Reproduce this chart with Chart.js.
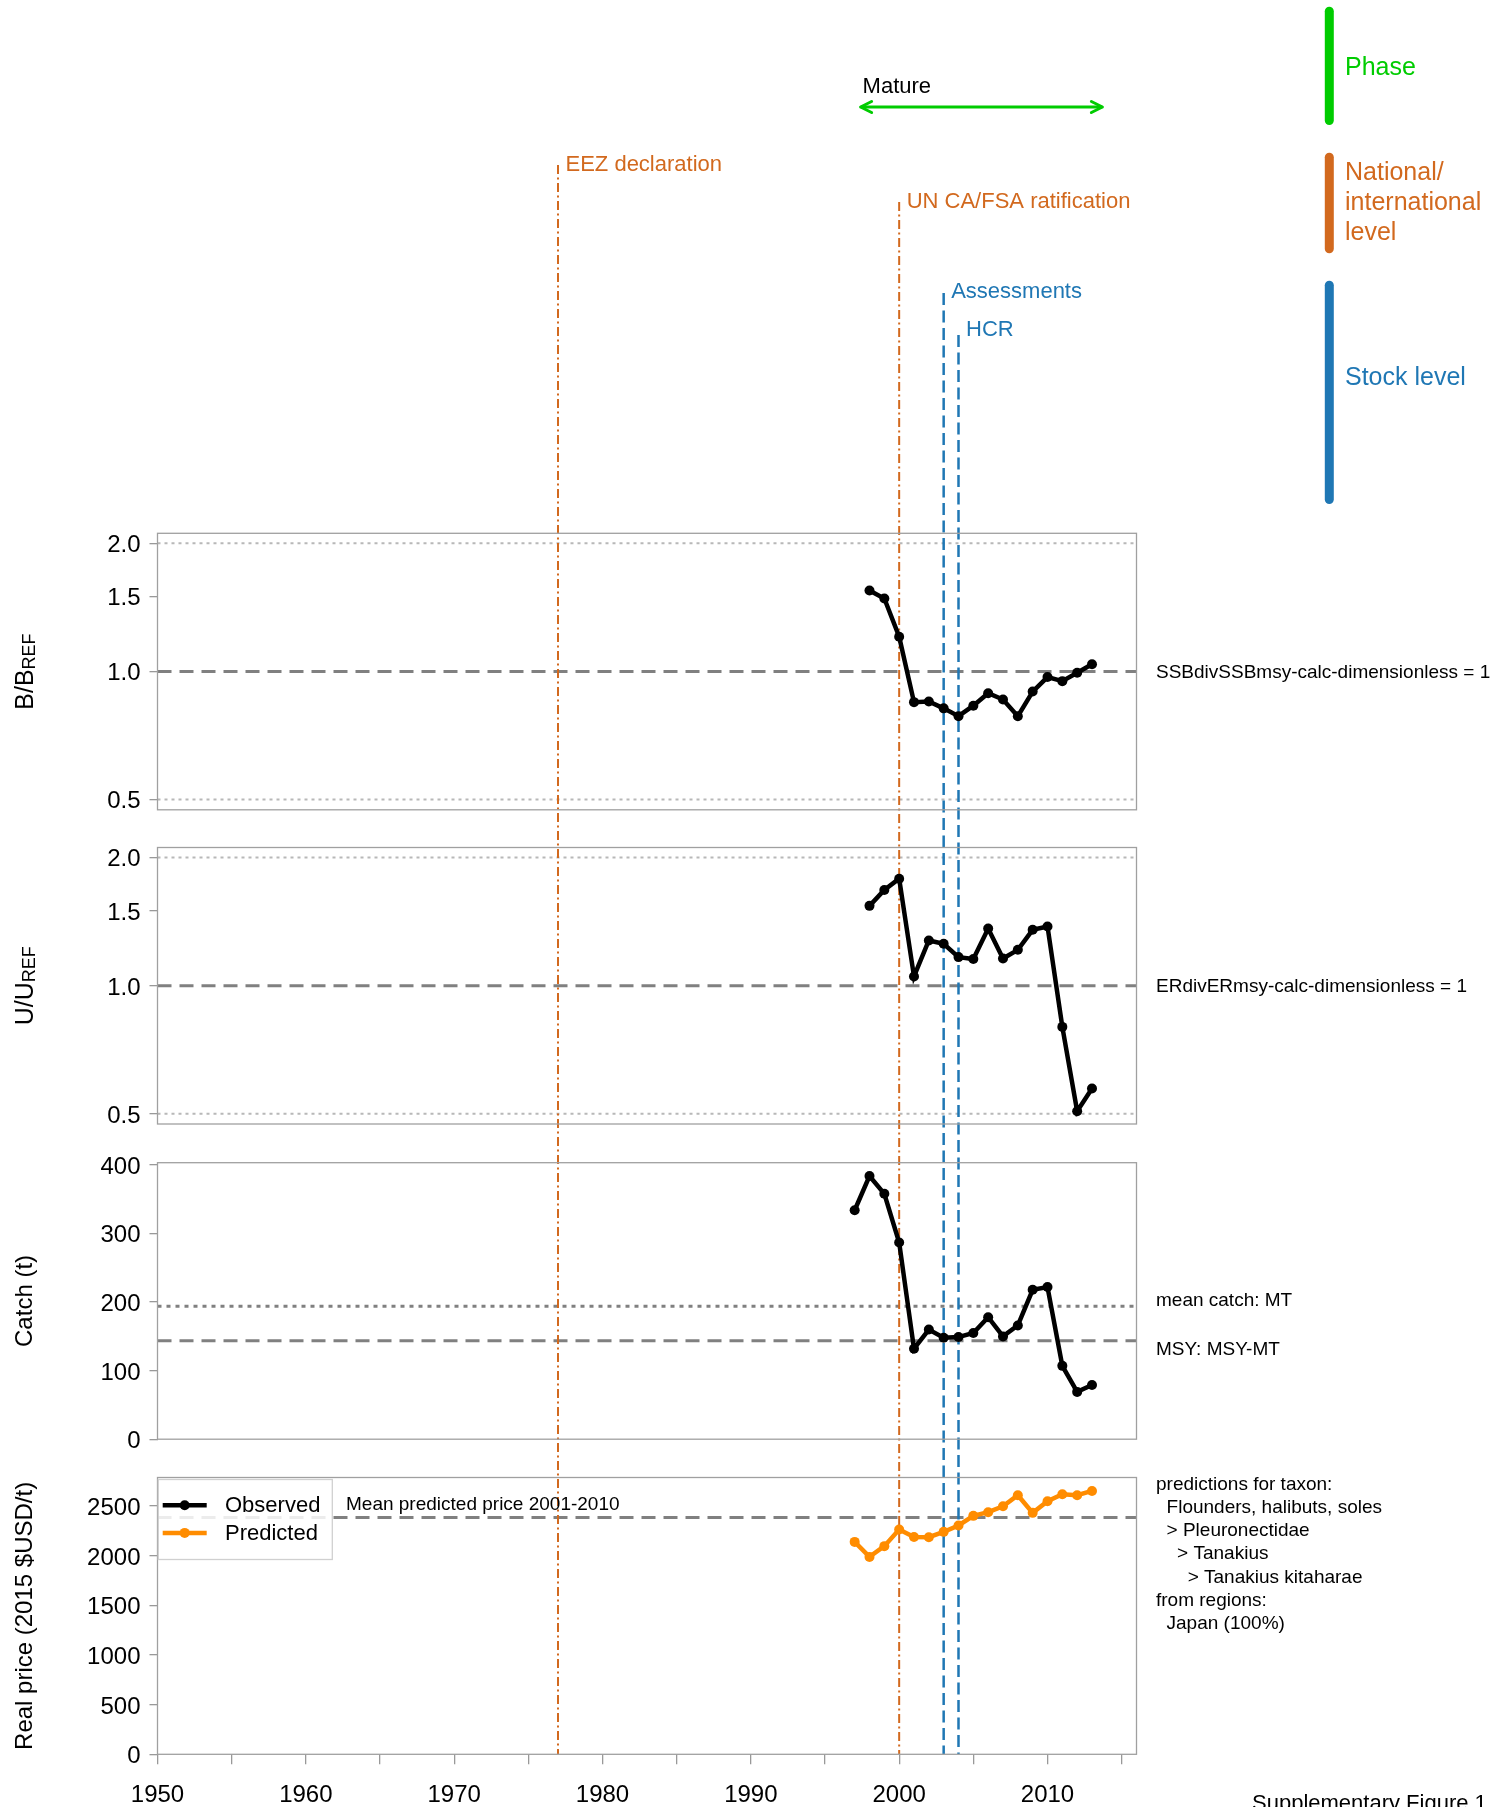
<!DOCTYPE html>
<html><head><meta charset="utf-8">
<script src="https://cdn.jsdelivr.net/npm/chart.js@4.4.1/dist/chart.umd.min.js"></script>
<style>
html,body{margin:0;padding:0;background:#fff;}
body{width:1510px;height:1807px;position:relative;overflow:hidden;}
canvas{position:absolute;left:0;}
</style></head><body>
<canvas id="c1" width="1510" height="828" style="top:0px"></canvas>
<canvas id="c2" width="1510" height="315" style="top:828px"></canvas>
<canvas id="c3" width="1510" height="315" style="top:1143px"></canvas>
<canvas id="c4" width="1510" height="349" style="top:1458px"></canvas>
<script>
// ---------------- DATA ----------------
const ratioYears = [1998,1999,2000,2001,2002,2003,2004,2005,2006,2007,2008,2009,2010,2011,2012,2013];
const bRatio = [1.55,1.484,1.207,0.847,0.850,0.819,0.785,0.831,0.889,0.859,0.785,0.897,0.970,0.949,0.993,1.040];
const uRatio = [1.54,1.678,1.784,1.051,1.277,1.254,1.167,1.155,1.362,1.158,1.214,1.353,1.377,0.800,0.507,0.573];
const catchYears = [1997,1998,1999,2000,2001,2002,2003,2004,2005,2006,2007,2008,2009,2010,2011,2012,2013];
const catchTonnes = [334,384,358,287,132,160,148,149,155,178,150,166,218,222,107,69,79];
const priceYears = [1997,1998,1999,2000,2001,2002,2003,2004,2005,2006,2007,2008,2009,2010,2011,2012,2013];
const predictedPrice = [2138,1987,2095,2263,2188,2185,2239,2303,2400,2437,2497,2608,2430,2547,2618,2608,2651];
const observedPrice = [];
const ratioTicks = [0.5,1.0,1.5,2.0];
const catchTicks = [0,100,200,300,400];
const priceTicks = [0,500,1000,1500,2000,2500];
const yearTicks = [1950,1955,1960,1965,1970,1975,1980,1985,1990,1995,2000,2005,2010,2015];
const ratioTarget = [1.0];
const ratioBounds = [0.5,2.0];
const meanCatch = [194];
const msyCatch = [143.5];
const meanPredictedPrice = [2383];
const eventYears = [1977,2000,2003,2004];
const eventLabels = ['EEZ declaration','UN CA/FSA ratification','Assessments','HCR'];
const eventKinds = ['national','national','stock','stock'];
const phaseLabels = ['Mature'];
const phaseStart = [1997.4];
const phaseEnd = [2013.7];
const levelLabels = [['Phase'],['National/','international','level'],['Stock level']];
const taxonNote = ['predictions for taxon:','  Flounders, halibuts, soles','  > Pleuronectidae','    > Tanakius','      > Tanakius kitaharae','from regions:','  Japan (100%)'];

// ---------------- STYLE / LAYOUT ----------------
const FONT = '"Liberation Sans", Arial, Helvetica, sans-serif';
const C = {green:'#00cc00', orange:'#d2691e', blue:'#1f77b4', pred:'#ff8c00', ref:'#808080', light:'#b8b8b8', frame:'#a0a0a0', tick:'#999999'};
const PLOT_LEFT = 157.5, RIGHT_PAD = 1510 - 1136.5;
const TDY = 1.8;
const eventTopAbs = [165, 202, 293, 335];
const eventTextAbs = [163, 200.5, 290.5, 328.5];
const eventStyle = {
  national: {color: C.orange, dash: [9, 3.5, 2, 3.5], width: 2},
  stock: {color: C.blue, dash: [12, 5.5], width: 2.5}
};

function font(sz){ return sz + 'px ' + FONT; }

function hline(chart, value, color, width, dash) {
  const {ctx, chartArea: a} = chart;
  const py = chart.scales.y.getPixelForValue(value);
  ctx.save();
  ctx.strokeStyle = color; ctx.lineWidth = width; ctx.setLineDash(dash);
  ctx.beginPath(); ctx.moveTo(a.left, py); ctx.lineTo(a.right, py); ctx.stroke();
  ctx.restore();
}

function drawEvents(chart, canvasTop, yEnd) {
  const ctx = chart.ctx, xs = chart.scales.x;
  eventYears.forEach((yr, i) => {
    const st = eventStyle[eventKinds[i]];
    const px = xs.getPixelForValue(yr);
    const top = Math.max(eventTopAbs[i] - canvasTop, 0);
    if (top >= yEnd) return;
    ctx.save();
    ctx.strokeStyle = st.color; ctx.lineWidth = st.width; ctx.setLineDash(st.dash);
    ctx.lineDashOffset = (canvasTop + top) - eventTopAbs[i];
    ctx.beginPath(); ctx.moveTo(px, top); ctx.lineTo(px, yEnd); ctx.stroke();
    ctx.restore();
  });
}

function drawFrame(chart) {
  const {ctx, chartArea: a} = chart;
  ctx.save(); ctx.strokeStyle = C.frame; ctx.lineWidth = 1.3;
  ctx.strokeRect(a.left, a.top, a.right - a.left, a.bottom - a.top);
  ctx.restore();
}

function sideText(chart, text, y, size) {
  const ctx = chart.ctx;
  ctx.save(); ctx.fillStyle = '#000'; ctx.font = font(size || 19);
  ctx.textAlign = 'left'; ctx.textBaseline = 'middle';
  ctx.fillText(text, chart.chartArea.right + 19.5, y + 1);
  ctx.restore();
}

function ratioTitle(chart, main, sub) {
  const {ctx, chartArea: a} = chart;
  const cy = (a.top + a.bottom) / 2;
  ctx.save();
  ctx.translate(33.3, cy); ctx.rotate(-Math.PI / 2);
  ctx.fillStyle = '#000'; ctx.textBaseline = 'alphabetic'; ctx.textAlign = 'left';
  ctx.font = font(25); const w1 = ctx.measureText(main).width;
  ctx.font = font(18); const w2 = ctx.measureText(sub).width;
  const x0 = -(w1 + w2) / 2;
  ctx.font = font(25); ctx.fillText(main, x0, 0);
  ctx.font = font(18); ctx.fillText(sub, x0 + w1, 2);
  ctx.restore();
}

function yScale(type, min, max, ticks, fmt, title) {
  const s = {
    type: type, min: min, max: max,
    afterBuildTicks: sc => { sc.ticks = ticks.map(v => ({value: v})); },
    afterFit: sc => { sc.width = PLOT_LEFT; sc.paddingTop = 0; sc.paddingBottom = 0; },
    ticks: {callback: fmt, font: {family: FONT, size: 24}, color: '#000', padding: 9, labelOffset: 2.3, autoSkip: false},
    grid: {display: true, drawOnChartArea: false, drawTicks: true, tickLength: 8, color: C.tick, lineWidth: 1.3},
    border: {display: false}
  };
  if (title) s.title = {display: true, text: title, font: {family: FONT, size: 24}, color: '#000', padding: {top: 10.6, bottom: 0}};
  return s;
}

function hiddenX() {
  return {type: 'linear', min: 1950, max: 2016, display: false};
}

function lineDataset(label, xs, ys, color) {
  return {label: label, data: xs.map((x, i) => ({x: x, y: ys[i]})), borderColor: color, backgroundColor: color,
    borderWidth: 4.5, pointRadius: 5, pointHoverRadius: 5, pointBorderWidth: 0, pointBackgroundColor: color, tension: 0, fill: false};
}

function baseOpts(padTop, padBottom, xScale, yS) {
  return {
    responsive: false, animation: false, devicePixelRatio: 1, events: [],
    layout: {padding: {left: 0, right: RIGHT_PAD, top: padTop, bottom: padBottom}},
    plugins: {legend: {display: false}, tooltip: {enabled: false}},
    scales: {x: xScale, y: yS}
  };
}

// ---------------- PANEL 1 : B/BREF + header ----------------
new Chart(document.getElementById('c1'), {
  type: 'line',
  data: {datasets: [lineDataset('B/BREF', ratioYears, bRatio, '#000')]},
  options: baseOpts(533.3, 828 - 809.8, hiddenX(), yScale('logarithmic', 0.473, 2.112, ratioTicks, v => Number(v).toFixed(1))),
  plugins: [{
    id: 'p1',
    beforeDatasetsDraw(chart) {
      ratioBounds.forEach(v => hline(chart, v, C.light, 2, [3, 4]));
      ratioTarget.forEach(v => hline(chart, v, C.ref, 3, [14, 8]));
      drawEvents(chart, 0, chart.height);
    },
    afterDatasetsDraw(chart) {
      drawFrame(chart);
      const ctx = chart.ctx, xs = chart.scales.x;
      ratioTitle(chart, 'B/B', 'REF');
      sideText(chart, 'SSBdivSSBmsy-calc-dimensionless = 1', chart.scales.y.getPixelForValue(ratioTarget[0]));
      // event labels
      ctx.save(); ctx.font = font(22); ctx.textBaseline = 'middle'; ctx.textAlign = 'left';
      eventYears.forEach((yr, i) => {
        ctx.fillStyle = eventStyle[eventKinds[i]].color;
        ctx.fillText(eventLabels[i], xs.getPixelForValue(yr) + 7.5, eventTextAbs[i] + TDY);
      });
      ctx.restore();
      // phase arrow
      phaseLabels.forEach((lab, i) => {
        const x1 = xs.getPixelForValue(phaseStart[i]), x2 = xs.getPixelForValue(phaseEnd[i]);
        const y = 107;
        ctx.save();
        ctx.strokeStyle = C.green; ctx.lineWidth = 3; ctx.lineCap = 'round'; ctx.lineJoin = 'round';
        ctx.beginPath(); ctx.moveTo(x1 + 1, y); ctx.lineTo(x2 - 1, y); ctx.stroke();
        ctx.beginPath(); ctx.moveTo(x1 + 11, y - 5.5); ctx.lineTo(x1, y); ctx.lineTo(x1 + 11, y + 5.5); ctx.stroke();
        ctx.beginPath(); ctx.moveTo(x2 - 11, y - 5.5); ctx.lineTo(x2, y); ctx.lineTo(x2 - 11, y + 5.5); ctx.stroke();
        ctx.fillStyle = '#000'; ctx.font = font(22); ctx.textBaseline = 'middle'; ctx.textAlign = 'left';
        ctx.fillText(lab, x1 + 2, 85 + TDY);
        ctx.restore();
      });
      // level key on the right
      const bars = [[11.2, 120.5, C.green], [157.2, 248.8, C.orange], [285.2, 499.5, C.blue]];
      const textY = [[66.7], [171.7, 201.7, 231.7], [376.7]];
      bars.forEach((b, i) => {
        ctx.save();
        ctx.strokeStyle = b[2]; ctx.lineWidth = 9; ctx.lineCap = 'round';
        ctx.beginPath(); ctx.moveTo(1329.3, b[0]); ctx.lineTo(1329.3, b[1]); ctx.stroke();
        ctx.fillStyle = b[2]; ctx.font = font(25); ctx.textBaseline = 'middle'; ctx.textAlign = 'left';
        levelLabels[i].forEach((t, j) => ctx.fillText(t, 1345, textY[i][j] + TDY));
        ctx.restore();
      });
    }
  }]
});

// ---------------- PANEL 2 : U/UREF ----------------
new Chart(document.getElementById('c2'), {
  type: 'line',
  data: {datasets: [lineDataset('U/UREF', ratioYears, uRatio, '#000')]},
  options: baseOpts(19.5, 19, hiddenX(), yScale('logarithmic', 0.473, 2.112, ratioTicks, v => Number(v).toFixed(1))),
  plugins: [{
    id: 'p2',
    beforeDatasetsDraw(chart) {
      ratioBounds.forEach(v => hline(chart, v, C.light, 2, [3, 4]));
      ratioTarget.forEach(v => hline(chart, v, C.ref, 3, [14, 8]));
      drawEvents(chart, 828, chart.height);
    },
    afterDatasetsDraw(chart) {
      drawFrame(chart);
      ratioTitle(chart, 'U/U', 'REF');
      sideText(chart, 'ERdivERmsy-calc-dimensionless = 1', chart.scales.y.getPixelForValue(ratioTarget[0]));
    }
  }]
});

// ---------------- PANEL 3 : Catch ----------------
new Chart(document.getElementById('c3'), {
  type: 'line',
  data: {datasets: [lineDataset('Catch', catchYears, catchTonnes, '#000')]},
  options: baseOpts(19.7, 18.8, hiddenX(), yScale('linear', 0, 403.4, catchTicks, v => String(v), 'Catch (t)')),
  plugins: [{
    id: 'p3',
    beforeDatasetsDraw(chart) {
      meanCatch.forEach(v => hline(chart, v, C.ref, 3, [4, 5]));
      msyCatch.forEach(v => hline(chart, v, C.ref, 3, [14, 8]));
      drawEvents(chart, 1143, chart.height);
    },
    afterDatasetsDraw(chart) {
      drawFrame(chart);
      const ys = chart.scales.y;
      sideText(chart, 'mean catch: MT', ys.getPixelForValue(meanCatch[0]) - 6);
      sideText(chart, 'MSY: MSY-MT', ys.getPixelForValue(msyCatch[0]) + 8);
    }
  }]
});

// ---------------- PANEL 4 : Price ----------------
const xPrice = {
  type: 'linear', min: 1950, max: 2016,
  afterBuildTicks: sc => { sc.ticks = yearTicks.map(v => ({value: v})); },
  afterFit: sc => { sc.height = 52.7; sc.paddingLeft = 0; sc.paddingRight = 0; },
  ticks: {callback: v => (v % 10 === 0 ? String(v) : ''), font: {family: FONT, size: 24}, color: '#000', padding: 17, maxRotation: 0, autoSkip: false},
  grid: {display: true, drawOnChartArea: false, drawTicks: true, tickLength: 10, color: C.tick, lineWidth: 1.3},
  border: {display: false}
};
new Chart(document.getElementById('c4'), {
  type: 'line',
  data: {datasets: [
    lineDataset('Observed', priceYears.slice(0, observedPrice.length), observedPrice, '#000'),
    lineDataset('Predicted', priceYears, predictedPrice, C.pred)
  ]},
  options: baseOpts(19.5, 0, xPrice, yScale('linear', 0, 2786, priceTicks, v => String(v), 'Real price (2015 $USD/t)')),
  plugins: [{
    id: 'p4',
    beforeDatasetsDraw(chart) {
      meanPredictedPrice.forEach(v => hline(chart, v, C.ref, 3, [14, 8]));
      drawEvents(chart, 1458, chart.chartArea.bottom);
    },
    afterDatasetsDraw(chart) {
      drawFrame(chart);
      const ctx = chart.ctx, a = chart.chartArea, ys = chart.scales.y;
      // mean price label
      ctx.save(); ctx.fillStyle = '#000'; ctx.font = font(19); ctx.textBaseline = 'middle'; ctx.textAlign = 'left';
      ctx.fillText('Mean predicted price 2001-2010', a.left + 188.5, ys.getPixelForValue(meanPredictedPrice[0]) - 13);
      ctx.restore();
      // legend
      ctx.save();
      ctx.fillStyle = 'rgba(255,255,255,0.85)'; ctx.strokeStyle = '#d0d0d0'; ctx.lineWidth = 1.3;
      ctx.fillRect(a.left + 0.8, a.top + 2, 174, 80);
      ctx.strokeRect(a.left + 0.8, a.top + 2, 174, 80);
      chart.data.datasets.forEach((ds, i) => {
        const y = a.top + 27.7 + i * 27.7;
        ctx.strokeStyle = ds.borderColor; ctx.lineWidth = 4.5; ctx.setLineDash([]);
        ctx.beginPath(); ctx.moveTo(a.left + 5.2, y); ctx.lineTo(a.left + 49.2, y); ctx.stroke();
        ctx.fillStyle = ds.borderColor;
        ctx.beginPath(); ctx.arc(a.left + 27.2, y, 5, 0, Math.PI * 2); ctx.fill();
        ctx.fillStyle = '#000'; ctx.font = font(22); ctx.textBaseline = 'middle'; ctx.textAlign = 'left';
        ctx.fillText(ds.label, a.left + 67.5, y + 1);
      });
      ctx.restore();
      // taxon note
      ctx.save(); ctx.fillStyle = '#000'; ctx.font = font(19); ctx.textBaseline = 'middle'; ctx.textAlign = 'left';
      taxonNote.forEach((t, j) => ctx.fillText(t, a.right + 19.5, 26.3 + j * 23.3));
      ctx.font = font(22); ctx.textBaseline = 'alphabetic';
      ctx.fillText('Supplementary Figure 1.', 1252, 352);
      ctx.restore();
    }
  }]
});
</script>
</body></html>
